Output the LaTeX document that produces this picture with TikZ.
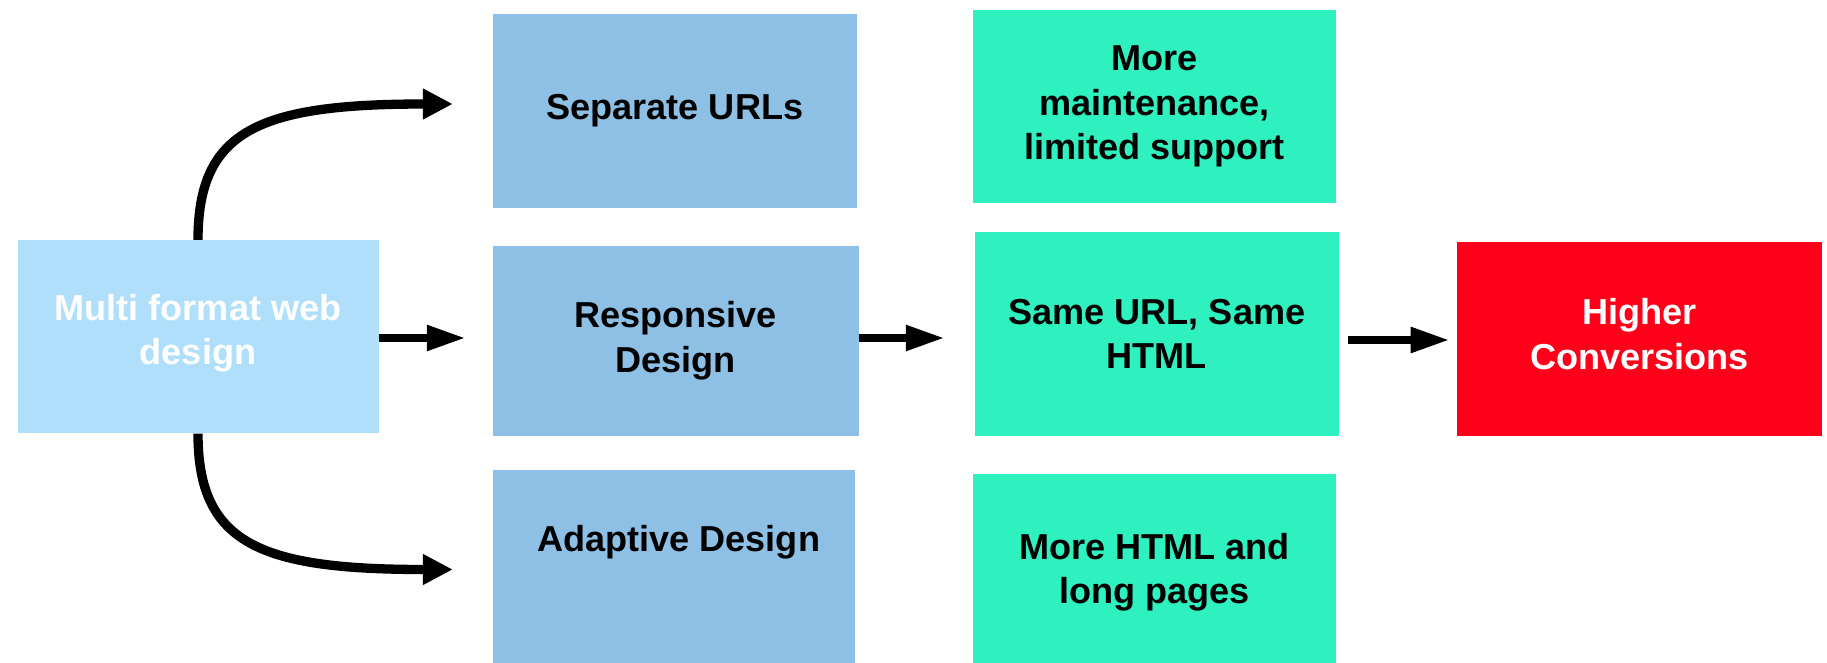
\documentclass[tikz,border=0pt]{standalone}
\usepackage{fontspec}
\setmainfont{Liberation Sans}
\usetikzlibrary{arrows.meta,calc}
\definecolor{lightblue}{HTML}{B0DFFC}
\definecolor{midblue}{HTML}{8EC0E5}
\definecolor{mint}{HTML}{2FF1C0}
\definecolor{hotred}{HTML}{FF001A}
\begin{document}
\begin{tikzpicture}[x=1pt,y=-1pt,
  box/.style={rectangle, inner sep=0pt, align=center,
    font=\bfseries\fontsize{36.1}{44.4}\selectfont},
  txt/.style={inner sep=0pt, align=center,
    font=\bfseries\fontsize{36.1}{44.4}\selectfont},
  straight/.style={line width=8.3pt, -{Triangle[length=39pt,width=24pt]}},
  curved/.style={line width=9.3pt, -{Triangle[length=30pt,width=29pt]}}]
\useasboundingbox (0,0) rectangle (1827,663);
\fill[white] (0,0) rectangle (1827,663);

\node[box, fill=lightblue, minimum width=361pt, minimum height=193.4pt,
  label={[txt, text=white, yshift=3.5pt]center:{Multi format web\\design}}] (multi) at (198,336.7) {};
\node[box, fill=midblue, minimum width=363.8pt, minimum height=193.6pt] (sep) at (674.9,110.8) {Separate URLs};
\node[box, fill=midblue, minimum width=365.5pt, minimum height=189.5pt] (resp) at (675.75,340.75) {Responsive\\Design};
\node[box, fill=midblue, minimum width=361.5pt, minimum height=193pt] (adap) at (673.75,566.5) {};
\node[txt] (adaptxt) at (678.7,542.5) {Adaptive Design};
\node[box, fill=mint, minimum width=363.6pt, minimum height=193.4pt] (maint) at (1154.5,106.7) {More\\maintenance,\\limited support};
\node[box, fill=mint, minimum width=363.7pt, minimum height=203.5pt] (same) at (1156.85,333.75) {Same URL, Same\\HTML};
\node[box, fill=mint, minimum width=363.6pt, minimum height=189pt,
  label={[txt, yshift=-4pt]center:{More HTML and\\long pages}}] (html) at (1154.5,568.5) {};
\node[box, fill=hotred, minimum width=365.4pt, minimum height=193.6pt,
  label={[txt, text=white, yshift=4.5pt]center:{Higher\\Conversions}}] (higher) at (1639.6,338.7) {};

\coordinate (topend) at ($(sep.west)+(-40,-6.8)$);
\coordinate (botend) at ($(adap.west)+(-40,3)$);

\draw[curved] (multi.north) .. controls ($(multi.north)+(0,-110)$) and ($(topend)+(-193,0)$) .. (topend);
\draw[curved] (multi.south) .. controls ($(multi.south)+(0,110)$) and ($(botend)+(-193,0)$) .. (botend);

\draw[straight] (multi.east |- 0,338) -- ([xshift=-27pt]resp.west |- 0,338);
\draw[straight] (resp.east |- 0,338) -- ([xshift=-30pt]same.west |- 0,338);
\draw[straight] ([xshift=9pt]same.east |- 0,340) -- ([xshift=-7pt]higher.west |- 0,340);
\end{tikzpicture}
\end{document}
